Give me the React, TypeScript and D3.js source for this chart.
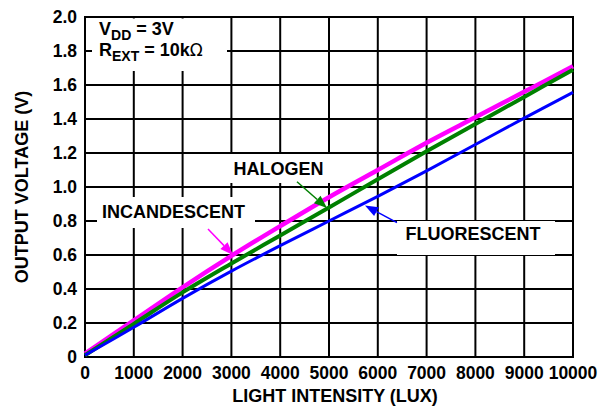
import React from "react";
import * as d3 from "d3";

const lux = [0, 1000, 2000, 3000, 4000, 5000, 6000, 7000, 8000, 9000, 10000];
const incandescent = [0.02, 0.215, 0.41, 0.595, 0.77, 0.94, 1.1, 1.26, 1.41, 1.56, 1.71];
const halogen = [0.01, 0.195, 0.38, 0.55, 0.715, 0.88, 1.045, 1.21, 1.37, 1.53, 1.69];
const fluorescent = [0.01, 0.175, 0.345, 0.505, 0.655, 0.8, 0.945, 1.095, 1.25, 1.405, 1.557];
const xTicks = [0, 1000, 2000, 3000, 4000, 5000, 6000, 7000, 8000, 9000, 10000];
const yTicks = [0, 0.2, 0.4, 0.6, 0.8, 1.0, 1.2, 1.4, 1.6, 1.8, 2.0];
const yTickLabels = ["0", "0.2", "0.4", "0.6", "0.8", "1.0", "1.2", "1.4", "1.6", "1.8", "2.0"];

const series = [
  { name: "INCANDESCENT", values: incandescent, color: "#ff00ff", width: 4.5 },
  { name: "HALOGEN", values: halogen, color: "#008000", width: 4 },
  { name: "FLUORESCENT", values: fluorescent, color: "#0000ff", width: 3 },
];

// annotations in data units
const labels = [
  { text: "INCANDESCENT", x: 1813, y: 0.853, box: [97, 197, 255, 228] },
  { text: "HALOGEN", x: 3965, y: 1.106, box: [226, 154, 336, 183] },
  { text: "FLUORESCENT", x: 7951, y: 0.724, box: [397, 221, 555, 255] },
];
const arrows = [
  { from: [2520, 0.753], to: [3033, 0.6], color: "#ff00ff" },
  { from: [4344, 1.031], to: [4959, 0.876], color: "#008000" },
  { from: [6393, 0.79], to: [5738, 0.891], color: "#0000ff" },
];

const L = 85, R = 573, T = 17, B = 357;
const FONT = "'Liberation Sans', Arial, sans-serif";

export default function App() {
  const x = d3.scaleLinear().domain([0, 10000]).range([L, R]);
  const y = d3.scaleLinear().domain([0, 2]).range([B, T]);
  const line = d3
    .line<number>()
    .x((_, i) => x(lux[i]))
    .y((d) => y(d))
    .curve(d3.curveCatmullRom);

  const arrowHead = (a: any) => {
    const x1 = x(a.from[0]), y1 = y(a.from[1]);
    const x2 = x(a.to[0]), y2 = y(a.to[1]);
    const ang = Math.atan2(y2 - y1, x2 - x1);
    const len = 13, w = 5;
    const bx = x2 - len * Math.cos(ang), by = y2 - len * Math.sin(ang);
    const px = -Math.sin(ang) * w, py = Math.cos(ang) * w;
    return {
      line: [x1, y1, bx, by],
      pts: `${x2},${y2} ${bx + px},${by + py} ${bx - px},${by - py}`,
    };
  };

  return (
    <svg width={613} height={409} style={{ position: "absolute", left: 0, top: 0, background: "#fff" }}>
      <rect x={0} y={0} width={613} height={409} fill="#fff" />
      {xTicks.map((t) => (
        <line key={"gx" + t} x1={x(t)} x2={x(t)} y1={T} y2={B} stroke="#000" strokeWidth={2} />
      ))}
      {yTicks.map((t) => (
        <line key={"gy" + t} x1={L} x2={R} y1={y(t)} y2={y(t)} stroke="#000" strokeWidth={2} />
      ))}
      <rect x={L} y={T} width={R - L} height={B - T} fill="none" stroke="#000" strokeWidth={2} />
      {/* white boxes */}
      <rect x={92} y={T + 1.5} width={135} height={71 - T - 1.5} fill="#fff" />
      {labels.map((l) => (
        <rect key={"b" + l.text} x={l.box[0]} y={l.box[1]} width={l.box[2] - l.box[0]} height={l.box[3] - l.box[1]} fill="#fff" />
      ))}
      {series.map((s) => (
        <path key={s.name} d={line(s.values) || ""} fill="none" stroke={s.color} strokeWidth={s.width} />
      ))}
      {arrows.map((a, i) => {
        const h = arrowHead(a);
        return (
          <g key={"a" + i}>
            <line x1={h.line[0]} y1={h.line[1]} x2={h.line[2]} y2={h.line[3]} stroke={a.color} strokeWidth={1.5} />
            <polygon points={h.pts} fill={a.color} />
          </g>
        );
      })}
      <g fontFamily={FONT} fontWeight="bold" fill="#000">
        {labels.map((l) => (
          <text key={l.text} x={x(l.x)} y={y(l.y)} textAnchor="middle" dominantBaseline="central" fontSize={18}>
            {l.text}
          </text>
        ))}
        <text x={99} y={35} fontSize={18}>
          V<tspan fontSize={14} dy={5}>DD</tspan>
          <tspan dy={-5}> = 3V</tspan>
        </text>
        <text x={99} y={56} fontSize={18}>
          R<tspan fontSize={14} dy={5}>EXT</tspan>
          <tspan dy={-5}> = 10k</tspan>
          <tspan fontWeight="normal" fontFamily="'DejaVu Sans', sans-serif" fontSize={17}>Ω</tspan>
        </text>
        {yTicks.map((t, i) => (
          <text key={"yl" + t} x={77} y={y(t)} textAnchor="end" dominantBaseline="central" fontSize={17.5}>
            {yTickLabels[i]}
          </text>
        ))}
        {xTicks.map((t) => (
          <text key={"xl" + t} x={x(t)} y={373} textAnchor="middle" dominantBaseline="central" fontSize={17.5}>
            {t}
          </text>
        ))}
        <text x={335} y={396} textAnchor="middle" dominantBaseline="central" fontSize={18}>
          LIGHT INTENSITY (LUX)
        </text>
        <text transform={`translate(22,${(T + B) / 2}) rotate(-90)`} textAnchor="middle" dominantBaseline="central" fontSize={18}>
          OUTPUT VOLTAGE (V)
        </text>
      </g>
    </svg>
  );
}
